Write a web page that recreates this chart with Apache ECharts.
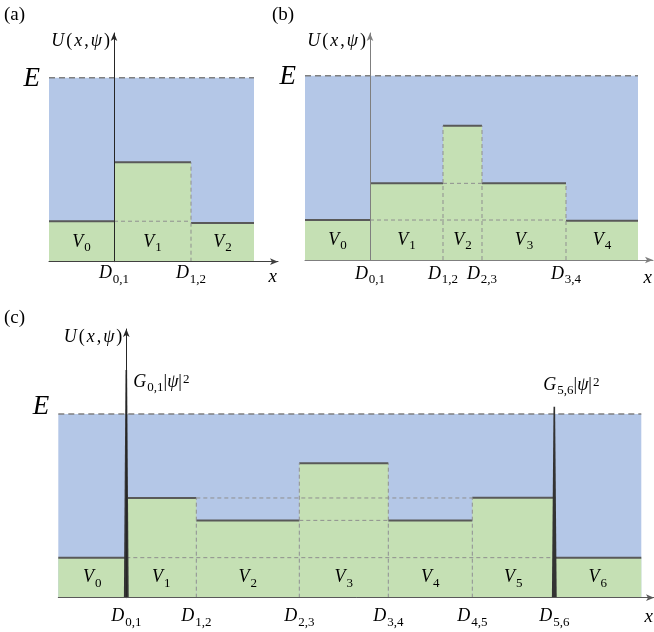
<!DOCTYPE html>
<html><head><meta charset="utf-8">
<script src="https://cdn.jsdelivr.net/npm/echarts@6/dist/echarts.min.js"></script>
<style>html,body{margin:0;padding:0;background:#fff}#c{width:654px;height:632px}</style>
</head><body><div id="c"></div>
<script>
// ---------- data ----------
const E_LEVEL = 1.0;
// panel (a)
const aBounds = [-6.5, 0, 7.7, 14.0];
const aLevels = [0.22, 0.54, 0.21];
const aDashH = [[0, 7.7, 0.22]];
// panel (b)
const bBounds = [-6.5, 0, 7.3, 11.2, 19.6, 26.8];
const bLevels = [0.217, 0.416, 0.729, 0.416, 0.213];
const bDashH = [[0, 19.6, 0.217], [7.3, 11.2, 0.416]];
// panel (c)
const cBounds = [-6.8, 0, 7.0, 17.3, 26.2, 34.6, 42.8, 51.5];
const cLevels = [0.218, 0.543, 0.421, 0.732, 0.421, 0.544, 0.218];
const cDashH = [[0, 42.8, 0.218], [7.0, 34.6, 0.543], [17.3, 26.2, 0.421]];
const cSpikes = [[0, 1.24, '0,1'], [42.8, 1.04, '5,6']];
const cSpikeLabelY = [1.175, 1.155];
const boundaryNames = ['0,1', '1,2', '2,3', '3,4', '4,5', '5,6'];
const levelNames = ['0', '1', '2', '3', '4', '5', '6'];
const panelLabels = ['(a)', '(b)', '(c)'];

// ---------- style ----------
const BLUE = '#B4C7E7', GREEN = '#C5E0B4';
const LEVEL_LINE = '#595959', DASH = '#8f8f8f';
const MATH = '"Liberation Serif", "DejaVu Serif", serif';
const richMath = {
  d: {fontFamily: MATH, fontStyle: 'italic', fontSize: 18, color: '#000', verticalAlign: 'top', lineHeight: 18},
  s: {fontFamily: MATH, fontSize: 13, color: '#000', verticalAlign: 'top', lineHeight: 13, padding: [8, 0, 0, 1]},
  n: {fontFamily: MATH, fontSize: 18, color: '#000', verticalAlign: 'top', lineHeight: 18},
  p: {fontFamily: MATH, fontSize: 13, color: '#000', verticalAlign: 'top', lineHeight: 13, padding: [0, 0, 5, 1]},
  ui: {fontFamily: MATH, fontStyle: 'italic', fontSize: 18, color: '#000', verticalAlign: 'top', lineHeight: 18, padding: [0, 1, 0, 1]},
  ur: {fontFamily: MATH, fontSize: 18, color: '#000', verticalAlign: 'top', lineHeight: 18, padding: [0, 1, 0, 1]}
};
const yName = '{ui|U}{ur|(}{ui|x}{ur|,}{ui|ψ}{ur|)}';

const panels = [
  {bounds: aBounds, levels: aLevels, dashH: aDashH, spikes: [], spikeLabelY: [],
   grid: {left: 49, top: 33, width: 229, height: 228.7}, xMax: 16.4, yMax: 1.243,
   eDy: 1, margin: 3, yColor: '#262626', xColor: '#404040', xNamePad: 6},
  {bounds: bBounds, levels: bLevels, dashH: bDashH, spikes: [], spikeLabelY: [],
   grid: {left: 305, top: 33, width: 348, height: 227}, xMax: 28.3, yMax: 1.232,
   eDy: 1, margin: 5, yColor: '#7f7f7f', xColor: '#7f7f7f', xNamePad: 8},
  {bounds: cBounds, levels: cLevels, dashH: cDashH, spikes: cSpikes, spikeLabelY: cSpikeLabelY,
   grid: {left: 58.3, top: 329, width: 595.7, height: 268.7}, xMax: 52.77, yMax: 1.463,
   eDy: -7, margin: 10, yColor: '#262626', xColor: '#595959', xNamePad: 10}
];
const titlePos = [{left: 4, top: 6}, {left: 272, top: 6}, {left: 4, top: 309}];

const grids = [], xAxes = [], yAxes = [], series = [], titles = [];

panels.forEach((P, i) => {
  grids.push(Object.assign({outerBoundsMode: 'none', containLabel: false}, P.grid));
  titles.push(Object.assign({text: panelLabels[i], padding: 0,
    textStyle: {fontFamily: MATH, fontSize: 19, fontWeight: 'normal', color: '#000'}}, titlePos[i]));
  const inner = P.bounds.slice(1, -1);
  xAxes.push({
    gridIndex: i, type: 'value', min: P.bounds[0], max: P.xMax, z: 10,
    axisLine: {onZero: true, lineStyle: {color: P.xColor, width: 1}, symbol: ['none', 'arrow'], symbolSize: [5, 8]},
    axisTick: {show: false}, splitLine: {show: false},
    axisLabel: {
      customValues: inner, margin: P.margin, hideOverlap: false,
      formatter: (v) => {
        const k = inner.findIndex(b => Math.abs(b - v) < 1e-6);
        return '{d|D}{s|' + boundaryNames[k] + '}';
      },
      rich: richMath
    },
    name: 'x', nameLocation: 'end', nameGap: -1,
    nameTextStyle: {fontFamily: MATH, fontStyle: 'italic', fontSize: 19, color: '#000',
      align: 'right', verticalAlign: 'top', padding: [P.xNamePad, 0, 0, 0]}
  });
  yAxes.push({
    gridIndex: i, type: 'value', min: 0, max: P.yMax, z: 10,
    axisLine: {onZero: true, lineStyle: {color: P.yColor, width: 1}, symbol: ['none', 'arrow'], symbolSize: [5, 8]},
    axisTick: {show: false}, axisLabel: {show: false}, splitLine: {show: false},
    name: yName, nameLocation: 'end', nameGap: 1,
    nameTextStyle: {align: 'right', verticalAlign: 'top', padding: [0, 3, 0, 0], rich: richMath}
  });

  const n = P.levels.length;
  const minLevel = Math.min.apply(null, P.levels);
  // blue region up to E
  series.push({
    type: 'custom', xAxisIndex: i, yAxisIndex: i, z: 1, silent: true,
    data: [[P.bounds[0], P.bounds[n], E_LEVEL]],
    renderItem: (params, api) => {
      const p0 = api.coord([api.value(0), api.value(2)]);
      const p1 = api.coord([api.value(1), 0]);
      return {type: 'group', children: [
        {type: 'rect', shape: {x: p0[0], y: p0[1], width: p1[0] - p0[0], height: p1[1] - p0[1]}, style: {fill: BLUE}},
        {type: 'line', shape: {x1: p0[0], y1: p0[1], x2: p1[0], y2: p0[1]},
         style: {stroke: '#7f7f7f', lineWidth: 1.5, lineDash: [6, 4]}},
        {type: 'text', x: p0[0] - 9, y: p0[1] + P.eDy,
         style: {text: 'E', font: 'italic 27px ' + MATH, fill: '#000',
           align: 'right', verticalAlign: 'middle', textAlign: 'right', textVerticalAlign: 'middle'}}
      ]};
    }
  });
  // green segments
  const segs = P.levels.map((v, k) => [P.bounds[k], P.bounds[k + 1], v, minLevel / 2, k]);
  series.push({
    type: 'custom', xAxisIndex: i, yAxisIndex: i, z: 2, silent: true,
    data: segs,
    renderItem: (params, api) => {
      const p0 = api.coord([api.value(0), api.value(2)]);
      const p1 = api.coord([api.value(1), 0]);
      const pl = api.coord([(api.value(0) + api.value(1)) / 2, api.value(3)]);
      const k = api.value(4);
      return {type: 'group', children: [
        {type: 'rect', shape: {x: p0[0], y: p0[1], width: p1[0] - p0[0], height: p1[1] - p0[1]}, style: {fill: GREEN}},
        {type: 'line', z2: 5, shape: {x1: p0[0], y1: p0[1], x2: p1[0], y2: p0[1]},
         style: {stroke: LEVEL_LINE, lineWidth: 2}},
        {type: 'text', x: pl[0], y: pl[1],
         style: {text: '{d|V}{s|' + levelNames[k] + '}', rich: richMath,
           align: 'center', verticalAlign: 'middle', textAlign: 'center', textVerticalAlign: 'middle'}}
      ]};
    }
  });
  // dashed horizontal guide lines
  series.push({
    type: 'custom', xAxisIndex: i, yAxisIndex: i, z: 3, silent: true,
    data: P.dashH,
    renderItem: (params, api) => {
      const p0 = api.coord([api.value(0), api.value(2)]);
      const p1 = api.coord([api.value(1), api.value(2)]);
      return {type: 'line', shape: {x1: p0[0], y1: p0[1], x2: p1[0], y2: p1[1]},
        style: {stroke: DASH, lineWidth: 1, lineDash: [4, 3]}};
    }
  });
  // dashed vertical boundaries (interior, after D0,1)
  const vds = [];
  for (let k = 2; k < n; k++) vds.push([P.bounds[k], Math.max(P.levels[k - 1], P.levels[k])]);
  series.push({
    type: 'custom', xAxisIndex: i, yAxisIndex: i, z: 3, silent: true,
    data: vds,
    renderItem: (params, api) => {
      const p0 = api.coord([api.value(0), 0]);
      const p1 = api.coord([api.value(0), api.value(1)]);
      return {type: 'line', shape: {x1: p0[0], y1: p0[1], x2: p1[0], y2: p1[1]},
        style: {stroke: DASH, lineWidth: 1, lineDash: [4, 3]}};
    }
  });
  // delta spikes
  if (P.spikes.length) {
    const spData = P.spikes.map((s, k) => [s[0], s[1], P.spikeLabelY[k], k]);
    series.push({
      type: 'custom', xAxisIndex: i, yAxisIndex: i, z: 6, silent: true,
      data: spData,
      renderItem: (params, api) => {
        const b = api.coord([api.value(0), 0]);
        const t = api.coord([api.value(0), api.value(1)]);
        const lab = api.coord([api.value(0), api.value(2)]);
        const k = api.value(3);
        const name = P.spikes[k][2];
        return {type: 'group', children: [
          {type: 'polygon', shape: {points: [[b[0] - 2.4, b[1]], [b[0] + 2.4, b[1]], [t[0] + 0.8, t[1]], [t[0] - 0.8, t[1]]]},
           style: {fill: '#333333'}},
          {type: 'text', x: lab[0] + (k === 0 ? 7 : -11), y: lab[1],
           style: {text: '{d|G}{s|' + name + '}{n||}{d|ψ}{n||}{p|2}', rich: richMath,
             align: 'left', verticalAlign: 'middle', textAlign: 'left', textVerticalAlign: 'middle'}}
        ]};
      }
    });
  }
});

const chart = echarts.init(document.getElementById('c'), null, {renderer: 'canvas'});
chart.setOption({
  animation: false,
  backgroundColor: '#fff',
  title: titles,
  grid: grids,
  xAxis: xAxes,
  yAxis: yAxes,
  series: series
});
</script>
</body></html>
